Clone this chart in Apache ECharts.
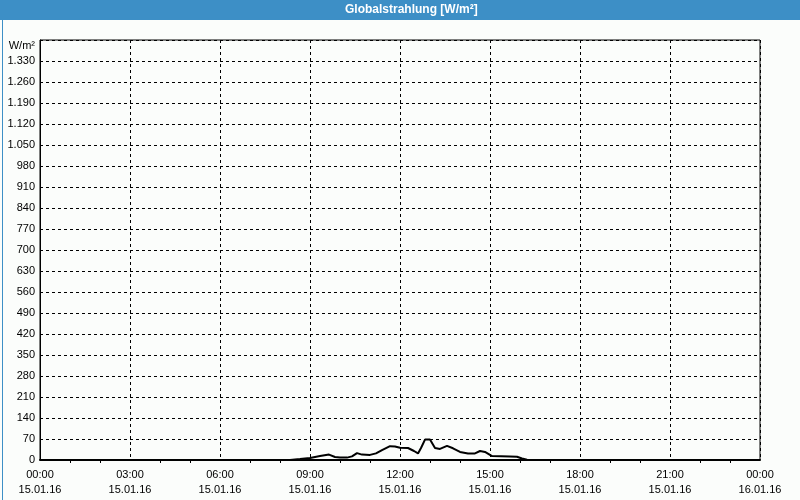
<!DOCTYPE html>
<html><head><meta charset="utf-8">
<script src="https://cdn.jsdelivr.net/npm/echarts@6/dist/echarts.min.js"></script>
<style>html,body{margin:0;padding:0;background:#fbfdfb}#c{width:800px;height:500px}</style>
</head><body><div id="c"></div>
<script>
// time in minutes since 15.01.16 00:00
const minutes = [0, 500, 520, 540, 560, 578, 590, 600, 614, 624, 634, 644, 660, 672, 684, 700, 710, 720, 736, 748, 756, 762, 770, 780, 790, 800, 814, 826, 840, 856, 870, 880, 890, 904, 940, 954, 964, 974, 990, 1440];
const values  = [0, 0, 3, 7, 13, 18, 10, 8, 8, 12, 23, 18, 17, 22, 33, 46, 45, 41, 40, 30, 22, 40, 68, 68, 40, 37, 47, 39, 27, 22, 22, 30, 27, 13, 12, 11, 5, 1, 0, 0];
const yTicks = [0, 70, 140, 210, 280, 350, 420, 490, 560, 630, 700, 770, 840, 910, 980, 1050, 1120, 1190, 1260, 1330, 1400];
const titleText = 'Globalstrahlung [W/m²]';
const unitText = 'W/m²';

const chart = echarts.init(document.getElementById('c'), null, {renderer: 'canvas'});
const font = '"Liberation Sans", Arial, sans-serif';
function pad(n){return (n<10?'0':'')+n;}
chart.setOption({
  backgroundColor: '#fbfdfb',
  animation: false,
  graphic: [
    {type:'rect', left:0, top:0, shape:{width:800, height:20}, style:{fill:'#3d8fc6'}, silent:true},
    {type:'rect', left:0, top:0, shape:{width:799, height:499}, style:{fill:'none', stroke:'#3d8fc6', lineWidth:1}, silent:true},
    {type:'text', left:345, top:4, style:{text:titleText, fill:'#ffffff', font:'bold 12px ' + font}, silent:true}
  ],
  grid: {left:40, right:40, top:40, bottom:40, show:true, borderColor:'#000', borderWidth:1, containLabel:false},
  xAxis: {
    type:'value', min:0, max:1440, interval:180,
    axisLine:{show:true, onZero:false, lineStyle:{color:'#000', width:2}},
    axisTick:{show:false},
    minorTick:{show:true, splitNumber:3, length:3, lineStyle:{color:'#000'}},
    splitLine:{show:true, lineStyle:{color:'#000', type:[3,3], width:1}},
    axisLabel:{
      color:'#000', fontSize:11, fontFamily:font, margin:7, lineHeight:15,
      showMinLabel:true, showMaxLabel:true,
      formatter: function(v){
        const day = 15 + Math.floor(v/1440);
        const m = v % 1440;
        return pad(Math.floor(m/60)) + ':' + pad(m%60) + '\n' + day + '.01.16';
      }
    }
  },
  yAxis: {
    type:'value', min:0, max:1400, interval:70,
    axisLine:{show:true, lineStyle:{color:'#000', width:1}},
    axisTick:{show:false},
    splitLine:{show:true, lineStyle:{color:'#000', type:[3,3], width:1}},
    axisLabel:{
      color:'#000', fontSize:11, fontFamily:font, margin:5,
      showMaxLabel:true,
      formatter: function(v){
        if (v === 1400) return '{u|' + unitText + '}';
        return v >= 1000 ? Math.floor(v/1000) + '.' + String(v%1000).padStart(3,'0') : String(v);
      },
      rich:{u:{color:'#000', fontSize:11, fontFamily:font, padding:[12,0,0,0]}}
    }
  },
  series: [{
    type:'line', symbol:'none', smooth:false,
    data: minutes.map((m,i)=>[m, values[i]]),
    lineStyle:{color:'#000', width:2},
    itemStyle:{color:'#000'}
  }]
});
</script></body></html>
